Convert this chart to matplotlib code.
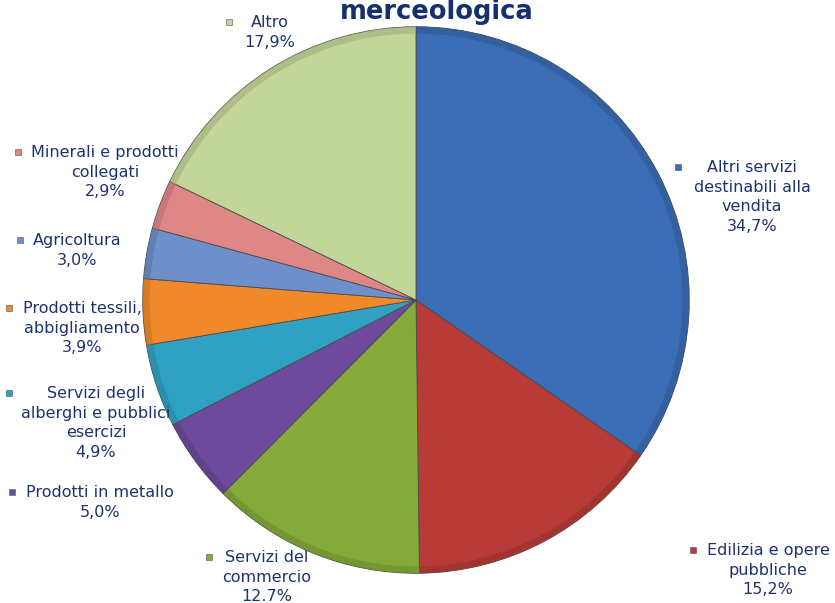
import matplotlib
matplotlib.use("Agg")
import matplotlib.pyplot as plt
import matplotlib.colors as mcolors

# data
categories = ["Altri servizi\ndestinabili alla\nvendita",
              "Edilizia e opere\npubbliche",
              "Servizi del\ncommercio",
              "Prodotti in metallo",
              "Servizi degli\nalberghi e pubblici\nesercizi",
              "Prodotti tessili,\nabbigliamento",
              "Agricoltura",
              "Minerali e prodotti\ncollegati",
              "Altro"]
values = [34.7, 15.2, 12.7, 5.0, 4.9, 3.9, 3.0, 2.9, 17.9]
value_labels = ["34,7%", "15,2%", "12.7%", "5,0%", "4,9%", "3,9%", "3,0%", "2,9%", "17,9%"]
colors = ["#3a6db5", "#b83b37", "#84aa3a", "#6d4a9b", "#2fa2c4",
          "#f0892a", "#6f8fcb", "#de8786", "#c3d699"]

W, H = 835, 603
fig = plt.figure(figsize=(W / 100, H / 100), dpi=100)

# pie drawn in its own axes so orientation stays normal
cx, cy, r = 416, 300, 276
pax = fig.add_axes([(cx - r) / W, (H - cy - r) / H, 2 * r / W, 2 * r / H])
pax.pie(values, colors=colors, startangle=90, counterclock=False,
        wedgeprops=dict(edgecolor="#4a4a4a", linewidth=0.6))
# darker rim for a bit of bevel look
rim = [tuple(v * 0.8 for v in mcolors.to_rgb(c)) for c in colors]
pax.pie(values, colors=rim, startangle=90, counterclock=False, radius=1.0,
        wedgeprops=dict(width=0.025, edgecolor="none", alpha=0.55))
pax.set_xlim(-1.01, 1.01)
pax.set_ylim(-1.01, 1.01)
pax.set_aspect("equal")
pax.axis("off")

# overlay axes in pixel coords for labels (drawn above the pie)
ax = fig.add_axes([0, 0, 1, 1])
ax.set_xlim(0, W)
ax.set_ylim(H, 0)
ax.axis("off")
ax.patch.set_visible(False)

# label placement (pixel coords): marker x, marker y, text centre x
label_pos = [(678, 167, 752), (693, 550, 768), (209, 557, 267), (12, 492, 100),
             (9, 393, 96), (9, 308, 82), (20, 240, 77), (18, 152, 105), (229, 22, 270)]
txt_color = "#1d3370"
for (mx, my, tx), name, val, c in zip(label_pos, categories, value_labels, colors):
    ax.scatter([mx], [my], marker="s", s=22, color=c, edgecolors="#555555", linewidths=0.4)
    ax.text(tx, my - 7, name + "\n" + val, ha="center", va="top", fontsize=11.5,
            color=txt_color, linespacing=1.38)

ax.text(437, 19, "merceologica", ha="center", va="baseline", fontsize=18.5,
        fontweight="bold", color="#14306e")

fig.savefig("out.png", dpi=100)
